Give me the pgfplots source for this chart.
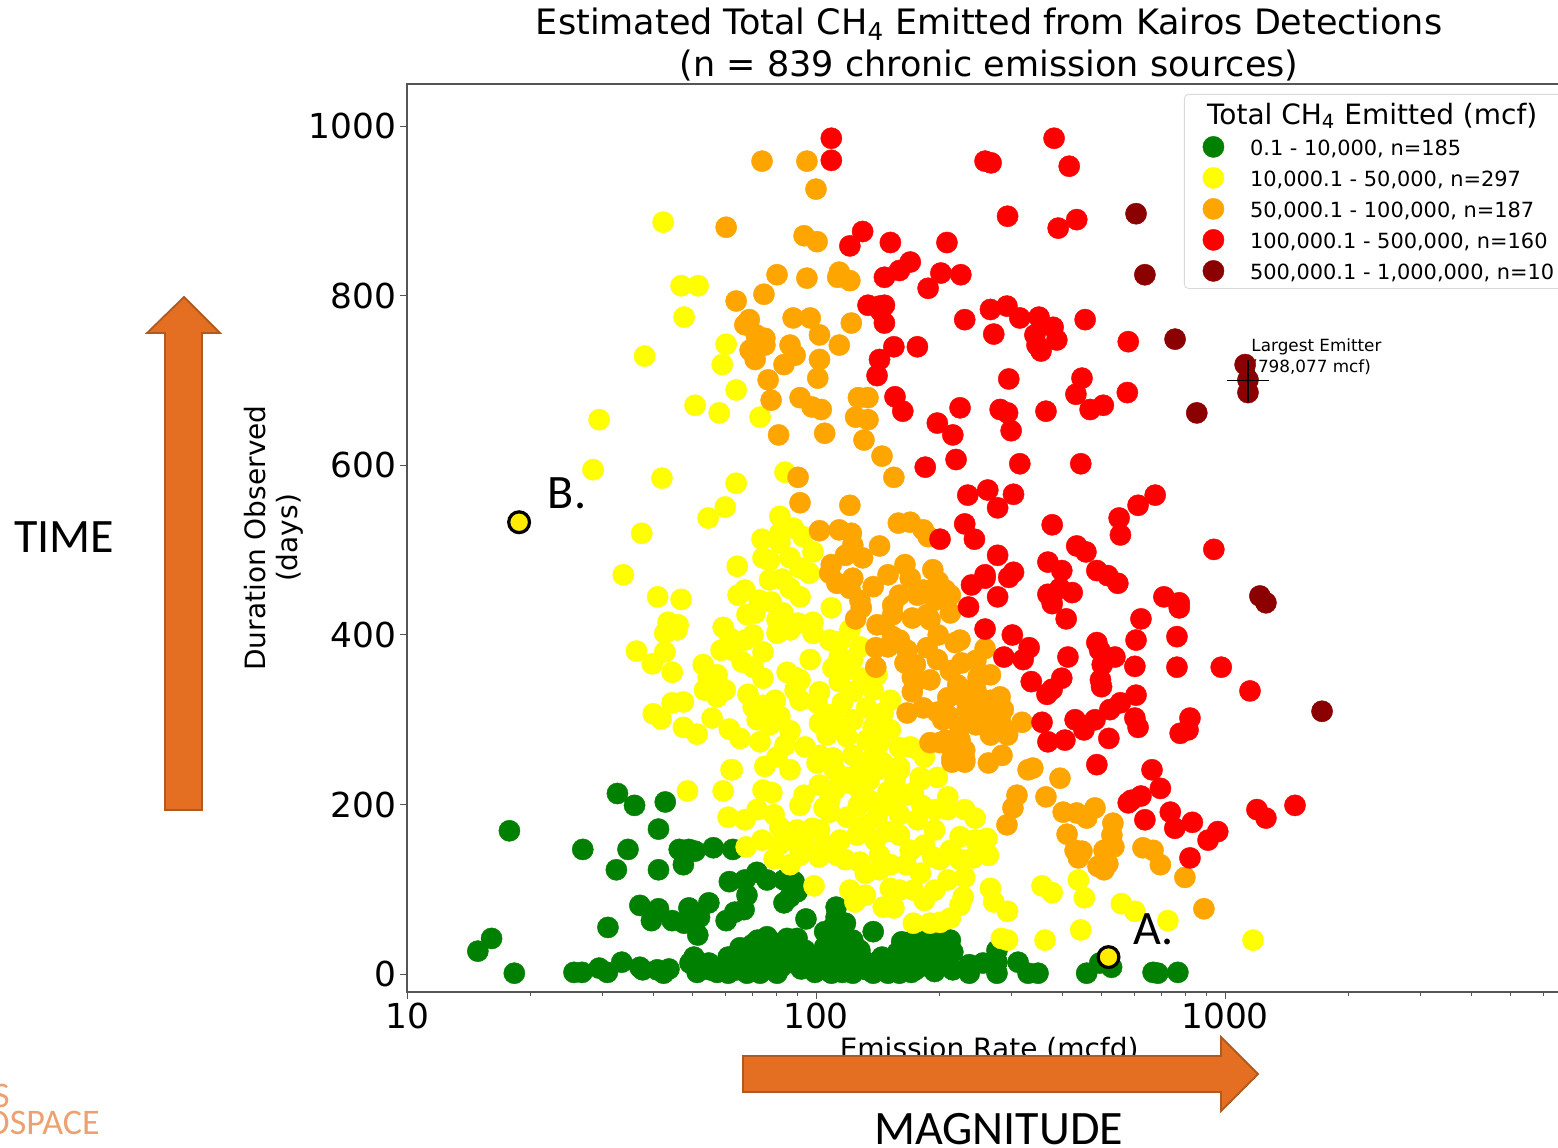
\documentclass[border=0pt]{standalone}
\usepackage{fontspec}
\setmainfont{DejaVu Sans}
\newfontfamily\carl{Carlito}
\usepackage{pgfplots}
\pgfplotsset{compat=1.18}
\definecolor{agreen}{HTML}{008000}
\definecolor{ayellow}{HTML}{FFFF00}
\definecolor{aorange}{HTML}{FFA500}
\definecolor{ared}{HTML}{FF0000}
\definecolor{adark}{HTML}{8B0000}
\definecolor{arrowfill}{HTML}{E46F23}
\definecolor{arrowline}{HTML}{AE5A21}
\definecolor{spine}{HTML}{555555}
\pgfplotsset{dot/.style={only marks, mark=*, mark size=5.3pt, mark options={draw=#1, fill=#1, line width=0.2pt}}}
\newcommand\rs{\rule[-3pt]{0pt}{13pt}}
\begin{document}
\begin{tikzpicture}
\path[use as bounding box] (0pt,0pt) rectangle (779pt,-573.5pt);
\begin{axis}[
  at={(203.5pt,-496pt)}, anchor=south west,
  scale only axis, width=577.5pt, height=454pt,
  xmode=log, log basis x=10,
  xmin=10, xmax=6668, ymin=-21.2, ymax=1050,
  xtick={10,100,1000}, xticklabels={10,100,1000},
  minor xtick={20,30,40,50,60,70,80,90,200,300,400,500,600,700,800,900,2000,3000,4000,5000,6000},
  ytick={0,200,400,600,800,1000}, yticklabels={0,200,400,600,800,1000},
  tick align=outside, tick pos=left,
  major tick length=3.5pt, minor tick length=2pt,
  every tick/.style={spine, line width=0.5pt},
  axis line style={spine, line width=0.7pt},
  tick label style={font=\fontsize{17.2}{20}\selectfont},
  xticklabel style={yshift=1.5pt},
  yticklabel style={xshift=1.5pt},
  title={Estimated Total CH\textsubscript{4} Emitted from Kairos Detections\\(n = 839 chronic emission sources)},
  title style={at={(0.504,1)}, anchor=south, yshift=-8pt, align=center, font=\fontsize{17.5}{20.8}\selectfont},
  xlabel={Emission Rate (mcfd)},
  xlabel style={at={(0.504,0)}, anchor=base, yshift=-33pt, font=\fontsize{14}{16}\selectfont},
  ylabel={Duration Observed\\(days)},
  ylabel style={at={(-0.115,0.5)}, anchor=center, align=center, font=\fontsize{14}{16}\selectfont},
  legend cell align=left,
  legend style={at={(0.6727,0.989)}, anchor=north west, draw=black!15, rounded corners=2pt, fill=white,
    font=\fontsize{10.45}{12}\selectfont, inner xsep=6pt, inner ysep=3pt, row sep=4pt, column sep=11pt,
    nodes={inner ysep=0pt}},
  only marks,
]
\addlegendimage{empty legend}
\addlegendentry{\hspace*{-21.5pt}\fontsize{14}{15}\selectfont Total CH\textsubscript{4} Emitted (mcf)\rule[-8.5pt]{0pt}{20.5pt}}
% chronic sources: 0.1 - 10,000 mcf
\addplot[dot=agreen] coordinates {
(17.8,169)(26.9,147)(34.7,147)(32.5,123)(41.2,123)(41.2,171)(32.7,213)(36,199)(42.8,203)
(46.3,147)(48.9,147)(50.6,145)(56.1,149)(62.6,147)(47.4,129)
(61.4,109)(67,111)(71.7,120)(75.9,111)(83.5,111)(88.4,109)(89.9,97)(67.8,93)(83.5,84)(86.4,91)(94.5,65)
(66.7,76)(63.3,73)(60.3,63)(54.7,84)(51.9,67)(48.9,78)(51.4,46)(47.6,60)(44.5,63)(39.6,63)(41.2,77)(37.1,81)(31,55)
(16.1,42)(14.9,27)(18.3,1)
(25.6,2)(26.8,2)(29.5,7)(30.9,2)(33.5,14)(37.1,8)(37.7,5)(40.9,5)(42.4,1)(43.7,6)
(50.3,20)(49.2,13)(51.2,2)(54.7,13)(57.3,2)(61,1)(65.2,31)(67.8,1)(73,1)(73.8,32)(75.9,44)(80.3,1)(79,25)(85,13)(89.9,42)(89.9,17)(99.4,2)(104.6,28)
(70,15)(76,15)(82,8)(92,6)(95,20)(66,14)(72,40)(78,38)(85,30)(94,28)(100,15)
(61,20)(64,5)(70,8)(66,30)(70,35)(74,12)(80,18)(85,42)(90,30)(96,12)(55,5)(52,12)
(112,79)(112,67)(110,55)(116,52)(108,40)(123,40)(105,32)(114,32)(128,28)(102,20)(110,20)(119,20)(130,17)
(105,10)(125,10)(115,40)(118,60)(105,50)(145,20)(155,10)(165,5)(180,12)(190,20)(205,15)(175,5)(195,3)
(109,1)(116,2)(123,1)(133,5)(141,14)(150,13)(150,1)(160,1)(171,2)(138,1)(138,50)
(162,38)(173,40)(187,40)(201,40)(213,40)(158,25)(170,25)(183,25)(198,26)(216,26)(190,8)(170,13)(216,5)
(237,11)(237,1)(256,13)(277,1)(277,28)(277,14)(312,14)(330,1)(349,1)
(459,1)(494,13)(528,8)(667,2)(685,1)(767,2)
};
\addlegendentry{0.1 - 10,000, n=185\rs}
% 10,000.1 - 50,000 mcf
\addplot[dot=ayellow] coordinates {
(42.3,887)(46.8,812)(51.5,812)(47.6,775)(38.1,729)(60.3,743)(59,719)(63.8,689)(50.6,671)(58,662)(29.5,654)(73,657)(28.5,595)(42,585)(63.8,579)(84,592)(37.5,520)(54.5,538)(60,551)(33.8,471)(41,445)(46.8,442)
(81.6,540)(73.8,513)(81.6,520)(88,526)(74.2,491)(86.4,491)(81.6,509)(93,516)(98.3,498)(96.3,473)(64.2,481)(82.6,466)(67,453)(64.5,447)(91.4,445)(86.4,455)(77.7,439)(109,432)(67.8,424)(71,426)(83,426)(43.5,415)(46,412)(42.7,402)(45.7,406)(59.3,409)(80.3,418)(80.3,402)(90.4,414)(98.3,415)(98.3,402)(70.2,400)(61.7,396)(62.4,382)(42.7,380)(74.2,380)(36.4,381)(39.8,366)(44.5,356)(53,365)(57.3,353)(54.5,350)(57.3,327)(66,368)(70.2,362)(74.2,349)(85,356)(88.9,350)(88.9,335)(68.2,330)(70.2,315)(74.2,317)(47.4,321)(44.5,320)(40,307)(41.8,301)(71.8,300)(81.6,304)(86.4,287)(73,274)(55.7,302)(61.4,289)(65.2,278)(47.4,291)(51.2,283)(94,268)(80.3,256)(75,245)(86.4,241)(62.4,241)(100.6,249)(110,255)(123,258)(102,333)(100.6,320)(102,296)(106.4,282)
(111,392)(114,392)(128,386)(114,374)(123,371)(110,361)(119,359)(130,349)(141,353)(114,345)(123,333)(116,320)(138,335)(152,323)(133,314)(146,308)(112.5,296)(123,300)(138,291)(152,288)(119,280)(133,276)(143,273)(160,267)(170,268)(184,256)(138,256)(146,249)(141,241)(160,244)(119,232)(180,232)(198,232)
(48.5,216)(59.3,216)(62,241)(74.2,217)(78,214)(93.5,211)(104.6,196)(61,185)(67,182)(71.8,194)(79,188)(81.6,173)(89.9,170)(98,172)(67.5,150)(73.8,158)(81,152)(79,136)(86.4,129)(93.5,155)(101.7,138)(98.9,104)
(121,225)(108,205)(127,199)(150,215)(150,199)(108,191)(119,185)(102,170)(126,164)(149,168)(141,185)(112.5,140)(128,132)(143,140)(152,129)(132,119)(121,99)(124.5,85)(146,79)(155,78)(152,101)(173,60)(190,60)(201,61)(213,66)(184,87)(173,99)(180,119)(170,146)(177,182)(181.5,199)(173,214)(180,229)(210,209)(210,194)(231,194)(245,184)(225,162)(262,160)(264,140)(242,137)(213,146)(193,138)(210,111)(231,114)(267,101)(229,91)(272,85)(294,74)(357,104)(378,96)(438,111)(453,90)(558,83)(602,74)(725,63)(444,52)(363,40)(284,42)(294,40)(1171,40)
(135,229)(128,217)(156,229)(166,211)(135,205)(160,188)(132,176)(160,164)(139.5,158)(114.5,158)(105,152)(118,135)(166,129)(195,194)(195,170)(184,152)(201,135)(225,135)(245,158)(195,99)(225,81)(132,93)(160,99)(143,123)(91.4,199)(86.4,158)(91.4,140)(111,241)(102,223)(84,270)(102,258)(91.4,323)(108,306)(77,294)(79.5,323)(96.8,371)(91.4,347)(108,394)(121,406)(72.6,441)(67,394)(58.6,382)(53.4,335)(60,335)(86.4,406)(91.4,479)(77,488)(77,465)(178,264)(160,241)(143,252)(128,241)(111,217)
};
\addlegendentry{10,000.1 - 50,000, n=297\rs}
% 50,000.1 - 100,000 mcf
\addplot[dot=aorange] coordinates {
(73.8,959)(95,959)(100,926)(60.3,881)(93.5,871)(100.6,864)(80.3,825)(95,821)(74.6,802)(63.8,794)(113,822)(121,818)(114,828)(122,768)(68.7,772)(67,766)(71.4,754)(75,750)(87.9,774)(96.8,774)(75,742)(69,736)(71,725)(86.4,742)(88.9,730)(83.5,719)(102,754)(114,742)(102,725)(101,703)(76.4,701)(77.7,677)(91.4,680)(97.8,669)(103,666)(105,638)(81,636)(127,680)(134,680)(125,657)(134,654)(131,630)(145,611)(155,586)(90.4,586)(91.4,556)(121,553)
(102,523)(114,524)(122,520)(143,505)(123,506)(118,494)(130,491)(109,483)(108,473)(112.5,461)(123,467)(121,455)(138,457)(159,532)(170,533)(183,524)(188,516)(165,483)(193,477)(170,467)(199,463)(183,453)(213,447)(177,447)(129,432)(125,419)(154,435)(154,424)(172,420)(187,424)(213,426)(141,412)(154,398)(140,385)(150,386)(140,362)(167,382)(187,385)(199,400)(219,391)(198,371)(165,367)(227,367)(259,384)(172,350)(175,345)(172,333)(222,341)(249,350)(267,353)(229,327)(242,323)(210,326)(282,327)(287,312)(319,297)(167,308)(183,314)(198,309)(204,300)(225,291)(256,296)(267,282)(294,282)(234,312)(252,315)(190,273)(201,273)(215,255)(231,264)(231,253)(264,249)(285,258)(330,241)(339,243)(268,308)(395,231)
(310,211)(303,196)(293,176)(365,209)(402,191)(434,190)(459,184)(481,196)(411,165)(447,145)(438,137)(489,127)(517,130)(532,178)(529,164)(535,150)(630,149)(667,146)(695,129)(798,114)(888,77)(215,250)(231,250)
(213,358)(246,335)(267,323)(210,305)(231,335)(190,347)(175,365)(160,394)(190,418)(225,394)(246,370)(291,288)(246,294)(282,300)(207,276)(225,276)(160,447)(195,441)(128,441)(150,471)(207,453)(147,412)(506,146)(506,123)(430,146)
};
\addlegendentry{50,000.1 - 100,000, n=187\rs}
% 100,000.1 - 500,000 mcf
\addplot[dot=ared] coordinates {
(109,986)(109,960)(259,959)(268,957)(382,986)(416,953)(294,894)(391,880)(434,890)(130,876)(121,859)(152,863)(209,863)(170,840)(160,830)(147,822)(202,827)(188,809)(226,825)(134,789)(143,788)(147,789)(144,782)(147,768)(231,772)(267,784)(293,788)(315,774)(351,775)(380,763)(455,772)(272,755)(343,754)(347,742)(355,735)(388,748)(580,746)(155,740)(177,740)(143,725)(141,706)(296,702)(447,703)(432,684)(577,686)(156,681)(163,664)(468,666)(504,671)(225,668)(365,664)(282,666)(294,662)(300,641)(198,650)(216,636)(220,607)(185,598)(315,602)(444,602)
(235,565)(263,571)(304,566)(278,550)(613,553)(675,565)(231,531)(244,513)(378,530)(551,538)(555,518)(939,501)(201,513)(278,494)(369,486)(434,505)(457,498)(399,476)(486,476)(517,470)(547,461)(423,450)(369,448)(395,455)(378,437)(709,445)(773,438)(773,432)(259,467)(240,459)(259,471)(304,474)(296,468)(278,445)(236,433)(259,407)(409,419)(623,419)(302,400)(763,398)(332,385)(288,374)(321,371)(486,391)(606,394)(494,382)(538,374)(413,374)(501,365)(602,363)(979,362)(763,362)(336,345)(399,349)(496,347)(367,330)(378,336)(606,329)(1151,334)(499,339)(555,320)(523,312)(481,300)(430,300)(452,288)(357,297)(602,302)(821,302)(613,291)(777,284)(812,288)(369,274)(406,276)(520,278)(486,247)(663,241)(590,205)(623,210)(695,219)(735,191)(580,202)(637,182)(754,172)(832,179)(960,168)(909,158)(1197,194)(1259,184)(1483,199)(821,137)
};
\addlegendentry{100,000.1 - 500,000, n=160\rs}
% 500,000.1 - 1,000,000 mcf
\addplot[dot=adark] coordinates {
(606,897)(637,825)(755,749)(853,662)(1120,719)(1138,701)(1138,686)(1217,446)(1259,438)(1727,310)
};
\addlegendentry{500,000.1 - 1,000,000, n=10\rs}
% largest emitter
\addplot[forget plot, only marks, mark=+, mark size=10.5pt, mark options={black, line width=0.8pt}] coordinates {(1138,700)};
% highlighted sources A and B
\addplot[forget plot, only marks, mark=*, mark size=5.2pt, mark options={draw=black, line width=1.6pt, fill=ayellow!85!orange}] coordinates {(519,20)(18.8,533)};
\node[anchor=west, align=left, font=\fontsize{8.4}{10.4}\selectfont, inner sep=0pt] at (axis cs:1158,728) {Largest Emitter\\(798,077 mcf)};
\end{axis}
\begin{scope}[x=0.5pt,y=-0.5pt]
\filldraw[fill=arrowfill, draw=arrowline, line width=0.9pt] (165,810)--(165,333)--(147,333)--(184,297)--(220,333)--(202,333)--(202,810)--cycle;
\filldraw[fill=arrowfill, draw=arrowline, line width=0.9pt] (743,1056)--(1221,1056)--(1221,1037)--(1258,1074)--(1221,1111)--(1221,1092)--(743,1092)--cycle;
\node[font=\carl\fontsize{24}{26}\selectfont, inner sep=0pt] at (64,537) {TIME};
\node[font=\carl\fontsize{24}{26}\selectfont, inner sep=0pt, anchor=base] at (998.5,1144) {MAGNITUDE};
\node[font=\carl\fontsize{24}{26}\selectfont, inner sep=0pt] at (567,493) {B.};
\node[font=\carl\fontsize{24}{26}\selectfont, inner sep=0pt] at (1154,929) {A.};
\node[font=\carl\fontsize{18}{20}\selectfont, text=arrowfill!65, inner sep=0pt, anchor=base east] at (100,1134) {AEROSPACE};
\node[font=\carl\fontsize{18}{20}\selectfont, text=arrowfill!65, inner sep=0pt, anchor=base east] at (10,1107) {KAIROS};
\end{scope}
\end{tikzpicture}
\end{document}
